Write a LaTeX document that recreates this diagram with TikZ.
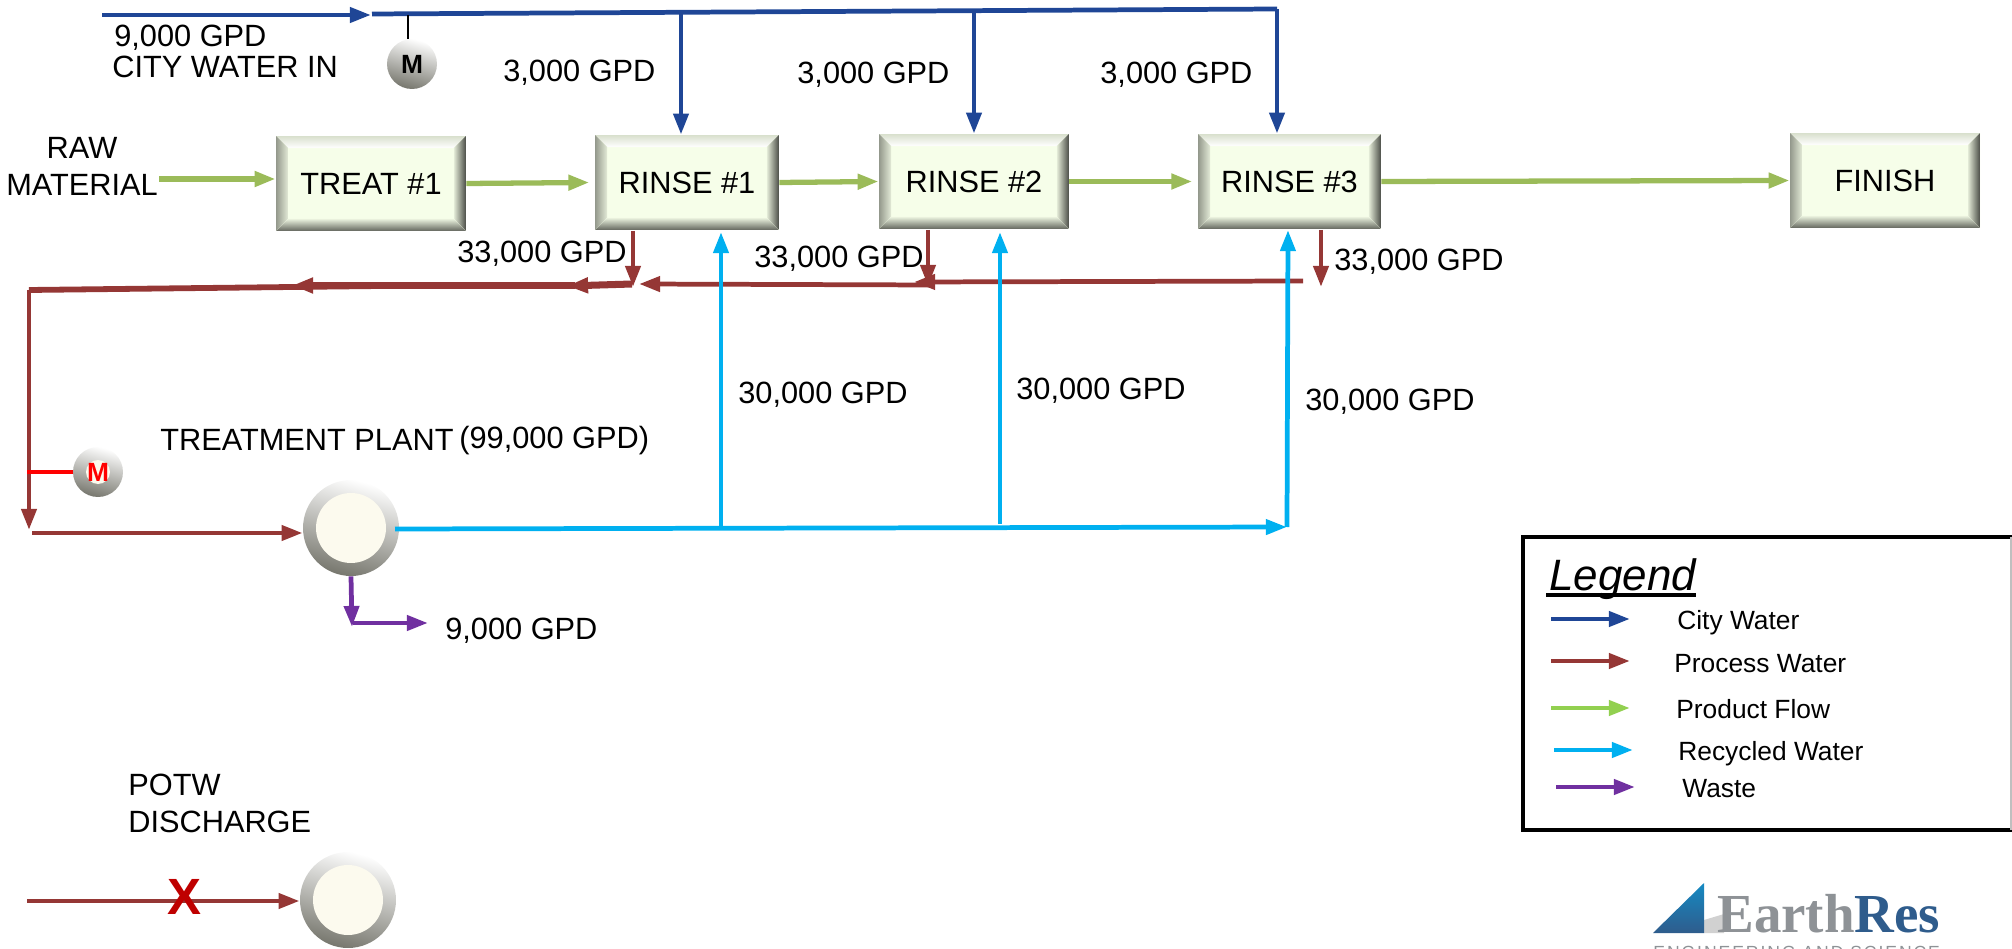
\documentclass[tikz,border=0pt]{standalone}
\usepackage{fontspec}
\setmainfont{Liberation Sans}
\newfontfamily\logoserif{Liberation Serif}
\newfontfamily\logosub[LetterSpace=11]{Liberation Sans}
\usetikzlibrary{arrows.meta}

\definecolor{citycol}{HTML}{1F4696}
\definecolor{processcol}{HTML}{953735}
\definecolor{productcol}{HTML}{9BBB59}
\definecolor{productkey}{HTML}{92D050}
\definecolor{recycledcol}{HTML}{00B0F0}
\definecolor{wastecol}{HTML}{7030A0}
\definecolor{boxcol}{HTML}{F6FEE9}
\definecolor{ringdark}{HTML}{77776E}
\definecolor{ringface}{HTML}{FCFAEE}
\definecolor{logoblue}{HTML}{2F5C8C}
\definecolor{logogray}{HTML}{8E9296}

\tikzset{
    flow/.style={line width=2.7pt, -{Triangle[length=12pt,width=8.4pt]}},
    cityflow/.style={flow, color=citycol},
    processflow/.style={flow, color=processcol},
    productflow/.style={flow, color=productcol, line width=3pt},
    recycledflow/.style={flow, color=recycledcol},
    wasteflow/.style={flow, color=wastecol},
    lbl/.style={anchor=west, inner sep=0pt, text height=12.5pt, text depth=0pt, font=\fontsize{17.5}{21}\selectfont},
    keylbl/.style={anchor=west, inner sep=0pt, text height=10.7pt, text depth=0pt, font=\fontsize{15}{17}\selectfont},
    bevelbox/.style={minimum height=1.9cm, inner sep=0pt, fill=boxcol, font=\fontsize{17.5}{21}\selectfont,
        path picture={
            \coordinate (nw) at (path picture bounding box.north west);
            \coordinate (ne) at (path picture bounding box.north east);
            \coordinate (sw) at (path picture bounding box.south west);
            \coordinate (se) at (path picture bounding box.south east);
            \fill [top color=black!12!boxcol, bottom color=white] (nw) -- (ne) -- ([shift={(-0.24cm,-0.24cm)}]ne) -- ([shift={(0.24cm,-0.24cm)}]nw) -- cycle;
            \fill [left color=black!40!boxcol, right color=black!8!boxcol] (nw) -- ([shift={(0.24cm,-0.24cm)}]nw) -- ([shift={(0.24cm,0.24cm)}]sw) -- (sw) -- cycle;
            \fill [left color=black!8!boxcol, right color=black!70!boxcol] (ne) -- ([shift={(-0.24cm,-0.24cm)}]ne) -- ([shift={(-0.24cm,0.24cm)}]se) -- (se) -- cycle;
            \fill [top color=black!5!boxcol, bottom color=black!60!boxcol] (sw) -- ([shift={(0.24cm,0.24cm)}]sw) -- ([shift={(-0.24cm,0.24cm)}]se) -- (se) -- cycle;
        }},
    tank/.style={circle, minimum size=1.92cm, inner sep=0pt, top color=white, bottom color=ringdark, shading angle=-15,
        path picture={\fill [ringface] (path picture bounding box.center) circle (0.7cm);}},
    meter/.style={circle, minimum size=1cm, inner sep=0pt, top color=white, bottom color=ringdark, shading angle=-15,
        font=\fontsize{15}{15}\selectfont\bfseries},
    redmeter/.style={meter, text=red,
        path picture={\fill [ringface] (path picture bounding box.center) circle (0.24cm);}}
}

\begin{document}
\begin{tikzpicture}[x=0.02cm, y=-0.02cm]
    \useasboundingbox (0,0) rectangle (2012,949);

    \node [bevelbox, minimum width=3.8cm] (treat) at (371,183.5) {TREAT \#1};
    \node [bevelbox, minimum width=3.68cm] (rinseone) at (687,182.5) {RINSE \#1};
    \node [bevelbox, minimum width=3.8cm] (rinsetwo) at (974,181.5) {RINSE \#2};
    \node [bevelbox, minimum width=3.66cm] (rinsethree) at (1289.5,181.5) {RINSE \#3};
    \node [bevelbox, minimum width=3.8cm] (finish) at (1885,180.5) {FINISH};
    \node [tank] (plant) at (351,528) {};
    \node [tank] (potw) at (348,900) {};
    \node [meter] (citymeter) at (412,64) {M};
    \node [redmeter] (plantmeter) at (98,472) {M};

    \coordinate (cityin) at (102,15);
    \coordinate (cityend) at (371,15);
    \coordinate (citystart) at (372,14);
    \coordinate (citytapone) at (681,12);
    \coordinate (citytaptwo) at (974,11);
    \coordinate (citycorner) at (1277,9);
    \draw [cityflow] (cityin) -- (cityend);
    \draw [citycol, line width=2.7pt] (citystart) -- (citycorner);
    \draw [cityflow] (citytapone) -- (citytapone |- rinseone.north);
    \draw [cityflow] (citytaptwo) -- (citytaptwo |- rinsetwo.north);
    \draw [cityflow] (citycorner) -- (citycorner |- rinsethree.north);
    \coordinate (citymetertap) at (408,15);
    \draw [line width=1.5pt] (citymetertap) -- (citymetertap |- citymeter.north);

    \coordinate (rawin) at (159,179);
    \draw [productflow] (rawin) -- (rawin -| treat.west);
    \draw [productflow] (treat.east) -- ([xshift=-3]rinseone.west);
    \draw [productflow] (rinseone.east) -- (rinsetwo.west);
    \draw [productflow] (rinsetwo.east) -- ([xshift=-3]rinsethree.west);
    \draw [productflow] (rinsethree.east) -- (finish.west);

    \coordinate (dropone) at (633,231);
    \coordinate (droponeend) at (633,287);
    \coordinate (droptwo) at (928,230);
    \coordinate (droptwoend) at (928,286);
    \coordinate (dropthree) at (1321,230);
    \coordinate (dropthreeend) at (1321,287);
    \draw [processflow] (dropone) -- (droponeend);
    \draw [processflow] (droptwo) -- (droptwoend);
    \draw [processflow] (dropthree) -- (dropthreeend);
    \coordinate (headerthree) at (1303,281);
    \coordinate (headerthreeend) at (914,282);
    \coordinate (headertwo) at (933,285);
    \coordinate (headertwoend) at (639,284);
    \draw [processflow] (headerthree) -- (headerthreeend);
    \draw [processflow] (headertwo) -- (headertwoend);
    \coordinate (headerone) at (632,284);
    \coordinate (headeroneend) at (567,286);
    \coordinate (headerthick) at (575,285.5);
    \coordinate (headerthickend) at (292,285.5);
    \coordinate (headerthin) at (380,286);
    \coordinate (processcorner) at (29,290);
    \coordinate (processdown) at (29,530);
    \coordinate (plantin) at (32,533);
    \draw [processflow, line width=4pt] (headerone) -- (headeroneend);
    \draw [processflow, line width=4pt] (headerthick) -- (headerthickend);
    \draw [processcol, line width=3.3pt] (headerthin) -- (processcorner);
    \draw [processflow] (processcorner) -- (processdown);
    \draw [processflow] (plantin) -- (plantin -| plant.west);
    \coordinate (metertap) at (27,472);
    \draw [red, line width=2.2pt] (metertap) -- (plantmeter.west);

    \coordinate (recyclestart) at (395,529);
    \coordinate (recycleend) at (1287,527);
    \coordinate (recycleone) at (721,528);
    \coordinate (recycletwo) at (1000,524);
    \draw [recycledflow] (recyclestart) -- (recycleend);
    \draw [recycledflow] (recycleone) -- (721,232);
    \draw [recycledflow] (recycletwo) -- (1000,232);
    \draw [recycledflow] (recycleend) -- (1288,230);

    \coordinate (wastebend) at (352,627);
    \coordinate (wasteout) at (353,623);
    \coordinate (wasteend) at (428,623);
    \draw [wasteflow] (plant.south) -- (wastebend);
    \draw [wasteflow] (wasteout) -- (wasteend);

    \coordinate (potwin) at (27,901);
    \draw [processflow] (potwin) -- (potwin -| potw.west);
    \node [text=red!75!black, inner sep=0pt, font=\fontsize{29}{29}\selectfont\bfseries] (blocked) at (184,897) {X};

    \node [lbl] (cityflowtop) at (114,36) {9,000 GPD};
    \node [lbl] (citywater) at (112,67) {CITY WATER IN};
    \node [lbl] (cityone) at (503,71) {3,000 GPD};
    \node [lbl] (citytwo) at (797,73) {3,000 GPD};
    \node [lbl] (citythree) at (1100,73) {3,000 GPD};
    \node [inner sep=0pt, align=center, font=\fontsize{17.5}{21}\selectfont] (raw) at (82,166) {RAW\\MATERIAL};
    \node [lbl] (processone) at (457,252) {33,000 GPD};
    \node [lbl] (processtwo) at (754,257) {33,000 GPD};
    \node [lbl] (processthree) at (1334,260) {33,000 GPD};
    \node [lbl] (recyone) at (738,393) {30,000 GPD};
    \node [lbl] (recytwo) at (1016,389) {30,000 GPD};
    \node [lbl] (recythree) at (1305,400) {30,000 GPD};
    \node [lbl] (plantname) at (160,440) {TREATMENT PLANT};
    \node [lbl] (plantflow) at (459,438) {(99,000 GPD)};
    \node [lbl] (waste) at (445,629) {9,000 GPD};
    \node [lbl] (potwname) at (128,785) {POTW};
    \node [lbl] (discharge) at (128,822) {DISCHARGE};

    \draw [line width=2.2pt] (2012,537) -- (1523,537) -- (1523,830) -- (2012,830);
    \draw [black!25, line width=0.6pt] (2011,537) -- (2011,830);
    \node [anchor=base west, inner sep=0pt, font=\fontsize{25}{25}\selectfont\itshape] (legend) at (1549,590) {Legend};
    \coordinate (legendline) at (1546,595);
    \draw [line width=2pt] (legendline) -- (legendline -| legend.east);
    \coordinate (keycity) at (1551,619);
    \coordinate (keyprocess) at (1551,661);
    \coordinate (keyproduct) at (1551,708);
    \coordinate (keyrecycled) at (1554,750);
    \coordinate (keywaste) at (1556,787);
    \draw [cityflow] (keycity) -- ++(79,0);
    \draw [processflow] (keyprocess) -- ++(79,0);
    \draw [flow, productkey] (keyproduct) -- ++(79,0);
    \draw [recycledflow] (keyrecycled) -- ++(79,0);
    \draw [wasteflow] (keywaste) -- ++(79,0);
    \node [keylbl] (citykey) at (1677,620) {City Water};
    \node [keylbl] (processkey) at (1674,663) {Process Water};
    \node [keylbl] (productkeylbl) at (1676,709) {Product Flow};
    \node [keylbl] (recycledkey) at (1678,751) {Recycled Water};
    \node [keylbl] (wastekey) at (1682,788) {Waste};

    \fill [black!18] (1704,933) -- (1704,920) -- (1724,914) -- (1724,933) -- cycle;
    \shade [top color=recycledcol!55!logoblue, bottom color=logoblue] (1704,883) -- (1653,933) -- (1704,933) -- cycle;
    \node [anchor=base west, inner sep=0pt, text depth=0pt, font=\fontsize{31.3}{32}\logoserif\bfseries\selectfont] (logo) at (1717,932) {\textcolor{logogray}{Earth}\textcolor{logoblue}{Res}};
    \node [anchor=base west, inner sep=0pt, text=logogray, font=\fontsize{10}{12}\logosub\selectfont] (logosub) at (1653,958) {ENGINEERING AND SCIENCE};
\end{tikzpicture}
\end{document}
